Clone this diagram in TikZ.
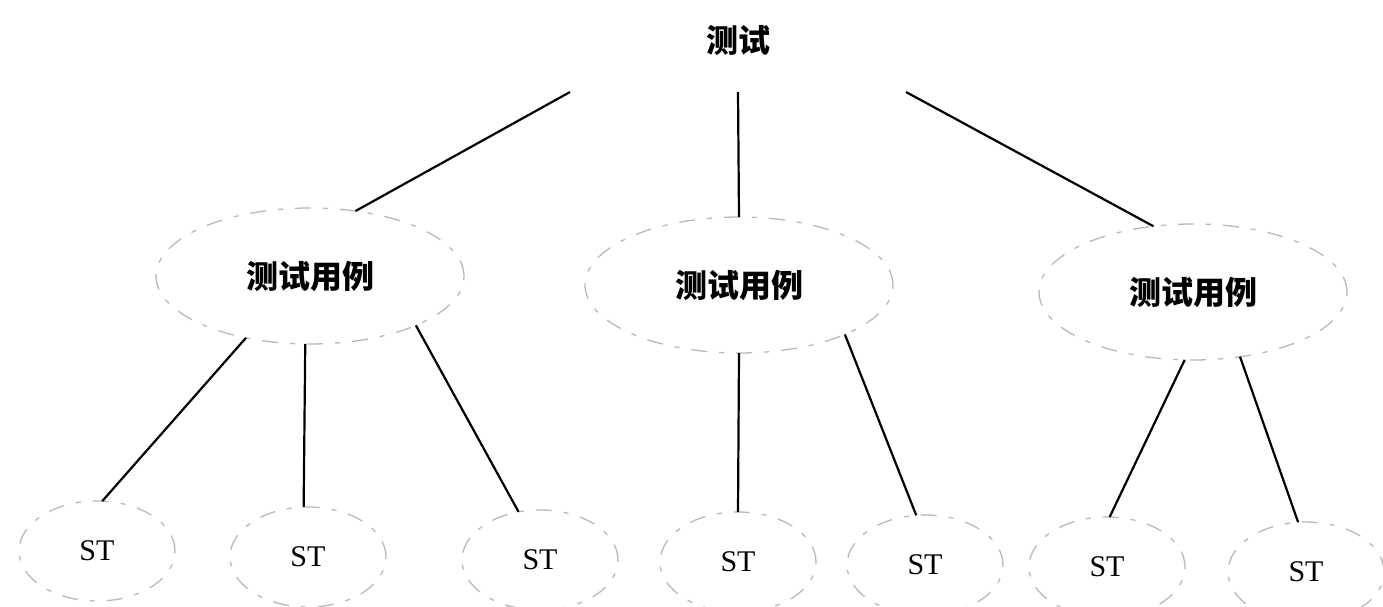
\documentclass[tikz,border=0pt]{standalone}
\usepackage{fontspec}
\setmainfont{Liberation Serif}
\newfontfamily\cjk{Noto Sans CJK SC}
\usetikzlibrary{shapes.geometric}
\begin{document}
\begin{tikzpicture}[x=1pt,y=-1pt,
  cjklabel/.style={font=\cjk\bfseries\fontsize{32}{38}\selectfont},
  stlabel/.style={font=\fontsize{30}{36}\selectfont},
  faint/.style={draw=gray!55, line width=1.3pt, dash pattern=on 16pt off 12pt on 5pt off 12pt},
  caseell/.style={ellipse, faint, minimum width=308pt, minimum height=136pt, inner sep=0pt, outer sep=0pt, cjklabel},
  stell/.style={ellipse, faint, minimum width=156pt, minimum height=100pt, inner sep=0pt, outer sep=0pt, stlabel},
  link/.style={draw=black, line width=2.2pt}
]
\path[use as bounding box] (0,0) rectangle (1383,606);

\node[rectangle, draw=none, minimum width=336pt, minimum height=104pt, inner sep=0pt, outer sep=0pt, cjklabel] (root) at (738,40) {测试};

\node[caseell] (tc1) at (310,276) {测试用例};
\node[caseell] (tc2) at (739,285) {测试用例};
\node[caseell] (tc3) at (1193,292) {测试用例};

\node[stell] (st1) at (97,551) {ST};
\node[stell] (st2) at (308,557) {ST};
\node[stell] (st3) at (540,560) {ST};
\node[stell] (st4) at (738,562) {ST};
\node[stell] (st5) at (925,565) {ST};
\node[stell] (st6) at (1107,567) {ST};
\node[stell] (st7) at (1306,572) {ST};

\draw[link] (root.south west) -- (tc1.55);
\draw[link] (root.south) -- (tc2.north);
\draw[link] (root.south east) -- (tc3.121);

\draw[link] (tc1.224) -- (st1.84);
\draw[link] (tc1.266) -- (st2.95);
\draw[link] (tc1.335) -- (st3.114);

\draw[link] (tc2.south) -- (st4.north);
\draw[link] (tc2.335) -- (st5.100);

\draw[link] (tc3.263) -- (st6.87);
\draw[link] (tc3.306) -- (st7.99);
\end{tikzpicture}
\end{document}
